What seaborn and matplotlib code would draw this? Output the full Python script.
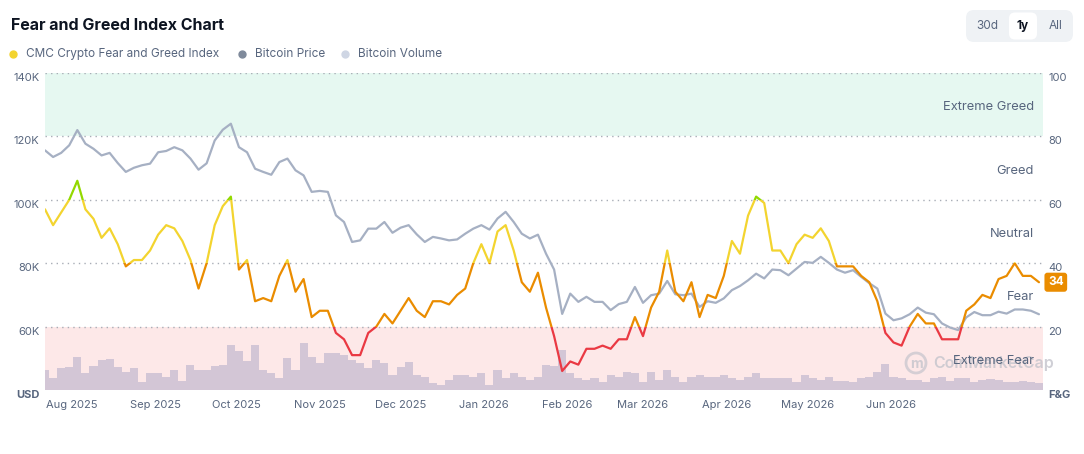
import pandas as pd
import seaborn as sns
import matplotlib.pyplot as plt
import matplotlib.dates as mdates
from matplotlib.patches import Rectangle, FancyBboxPatch, Circle
from matplotlib.lines import Line2D
from matplotlib.transforms import Affine2D, blended_transform_factory

# values, one sample every 3 days from 22 Jul 2025
start_date = '2025-07-22'
fear_greed = [57, 52, 56, 60, 66, 57, 54, 48, 51, 46, 39, 41, 41, 44, 49, 52, 51, 47, 41, 32,
              40, 52, 58, 61, 38, 41, 28, 29, 28, 36, 41, 31, 35, 23, 25, 25, 18, 16, 11, 11,
              18, 20, 24, 21, 25, 29, 25, 23, 28, 28, 27, 30, 32, 40, 46, 40, 50, 52, 44, 34,
              31, 37, 26, 17, 6, 9, 8, 13, 13, 14, 13, 16, 16, 23, 17, 26, 31, 44, 31, 28,
              34, 23, 30, 29, 36, 47, 43, 55, 61, 59, 44, 44, 40, 46, 49, 48, 51, 47, 39, 39,
              39, 36, 34, 28, 18, 15, 14, 20, 24, 21, 21, 16, 16, 16, 25, 27, 30, 29, 35, 36,
              40, 36, 36, 34]
btc_price_k = [115.6, 113.5, 114.8, 117.2, 122.0, 117.7, 116.1, 114.0, 114.8, 111.6,
               108.8, 110.1, 110.9, 111.4, 115.0, 115.4, 116.6, 115.6, 113.0, 109.5,
               111.5, 118.7, 122.1, 124.0, 116.6, 115.0, 109.8, 108.8, 107.9, 111.9,
               113.0, 109.3, 107.7, 102.5, 102.8, 102.5, 95.1, 93.0, 86.7, 87.2,
               90.9, 90.9, 93.0, 89.6, 91.2, 92.0, 89.1, 86.7, 88.3, 87.8,
               87.2, 87.5, 89.3, 90.9, 92.0, 90.6, 94.1, 96.2, 93.0, 89.3,
               87.8, 89.0, 83.0, 78.0, 64.0, 70.4, 67.8, 69.4, 67.8, 67.8,
               65.2, 67.1, 67.8, 72.5, 67.5, 69.9, 70.4, 74.4, 70.2, 69.9,
               70.4, 66.2, 68.0, 67.5, 68.9, 71.5, 72.8, 74.6, 76.7, 75.2,
               78.0, 77.8, 76.2, 78.3, 80.4, 80.1, 82.0, 80.1, 78.0, 77.0,
               77.8, 75.7, 73.7, 72.0, 64.1, 62.0, 62.6, 63.9, 66.0, 64.4,
               63.9, 61.0, 59.7, 58.9, 62.9, 64.6, 63.6, 63.6, 64.7, 64.1,
               65.4, 65.4, 65.0, 63.9]
btc_volume_b = [20, 12, 22, 23, 33, 17, 24, 30, 31, 23, 18, 22, 8, 17, 17, 13, 20, 9, 25, 20,
                20, 24, 25, 45, 39, 29, 45, 20, 17, 12, 32, 20, 47, 33, 27, 37, 37, 35, 30, 27,
                22, 30, 27, 15, 23, 28, 15, 13, 7, 5, 10, 15, 15, 13, 17, 5, 20, 12, 17, 13,
                10, 13, 25, 24, 40, 17, 12, 10, 12, 8, 15, 13, 18, 17, 8, 18, 10, 20, 13, 8,
                13, 15, 13, 13, 15, 12, 10, 13, 17, 12, 12, 12, 12, 8, 15, 12, 10, 13, 9, 9,
                8, 12, 13, 18, 26, 13, 12, 10, 10, 8, 12, 13, 9, 12, 12, 8, 10, 11, 10, 8,
                8, 9, 8, 7]
dates = pd.date_range(start_date, periods=len(fear_greed), freq='3D')

band_edges = [0, 20, 40, 60, 80, 100]
band_names = ['Extreme Fear', 'Fear', 'Neutral', 'Greed', 'Extreme Greed']
band_line_colors = ['#ea3943', '#ea8c00', '#f3d42f', '#93d900', '#16c784']

price_ticks_k = [40, 60, 80, 100, 120, 140]
price_tick_labels = ['USD', '60K', '80K', '100K', '120K', '140K']
fg_ticks = [0, 20, 40, 60, 80, 100]
fg_tick_labels = ['F&G', '20', '40', '60', '80', '100']
month_ticks = pd.date_range('2025-08-01', '2026-06-01', freq='MS')

sns.set_theme(style='white')
plt.rcParams['font.family'] = ['Inter', 'DejaVu Sans']
grey_text = '#58667e'

W, H = 1084, 454
fig = plt.figure(figsize=(W / 100, H / 100), dpi=100)
px = Affine2D().scale(1 / W, -1 / H).translate(0, 1) + fig.transFigure

ax = fig.add_axes([45 / W, 64 / H, 998 / W, 317 / H])
ax_vol = ax.twinx()
ax_price = ax.twinx()
ax_fg = ax.twinx()

# background bands and dotted grid
ax.set_ylim(0, 100)
ax.axhspan(0, 20, color='#fde8e8', lw=0)
ax.axhspan(80, 100, color='#e6f8f1', lw=0)
for y in fg_ticks:
    ax.axhline(y, color='#a8adb6', lw=1, ls=(0, (1, 3)))

# watermark (sits under the zone label, as in the original)
ax.add_patch(Circle((916, 363), 10, transform=px, fill=False, ec='#c4c4cc', lw=2, alpha=0.7))
ax.text(916, 364, 'm', transform=px, ha='center', va='center', fontsize=10,
        color='#c4c4cc', alpha=0.8, fontweight='bold')
ax.text(933, 363, 'CoinMarketCap', transform=px, ha='left', va='center', fontsize=11.5,
        color='#c4c4cc', alpha=0.8, fontweight='semibold')

band_lab_tr = blended_transform_factory(ax.transAxes, ax.transData)
for lo, hi, name in zip(band_edges[:-1], band_edges[1:], band_names):
    ax.text(0.991, (lo + hi) / 2 - 0.8, name, transform=band_lab_tr, ha='right', va='center',
            fontsize=9.3, color=grey_text)

# volume
ax_vol.bar(dates, btc_volume_b, width=3, color='#d3c6d6', lw=0)
ax_vol.set_ylim(0, 317)

# bitcoin price
sns.lineplot(x=dates, y=btc_price_k, ax=ax_price, color='#a6b0c3', linewidth=1.6)
ax_price.set_ylim(40, 140)

# fear & greed line, coloured by zone
clip_tr = blended_transform_factory(ax_fg.transAxes, ax_fg.transData)
for i, c in enumerate(band_line_colors):
    lo = band_edges[i] if i > 0 else -50
    hi = band_edges[i + 1] if i < len(band_line_colors) - 1 else 150
    sns.lineplot(x=dates, y=fear_greed, ax=ax_fg, color=c, linewidth=1.6)
    line = ax_fg.lines[-1]
    line.set_solid_joinstyle('round')
    line.set_clip_path(Rectangle((0, lo), 1, hi - lo, transform=clip_tr))
ax_fg.set_ylim(0, 100)

ax.set_xlim(dates[0], dates[-1] + pd.Timedelta(hours=36))

for a in (ax, ax_vol, ax_price, ax_fg):
    for s in a.spines.values():
        s.set_visible(False)
    a.set_ylabel('')
    a.set_xlabel('')
    a.grid(False)
ax.set_yticks([])
ax_vol.set_yticks([])

ax_price.yaxis.tick_left()
ax_price.set_yticks(price_ticks_k, price_tick_labels)
ax_price.tick_params(axis='y', length=0, pad=4, labelsize=8, labelcolor=grey_text)
for t in ax_price.get_yticklabels():
    t.set_verticalalignment('top')
ax_price.get_yticklabels()[0].set_fontweight('bold')

ax_fg.yaxis.tick_right()
ax_fg.set_yticks(fg_ticks, fg_tick_labels)
ax_fg.tick_params(axis='y', length=0, pad=4, labelsize=8, labelcolor=grey_text)
for t in ax_fg.get_yticklabels():
    t.set_verticalalignment('top')
ax_fg.get_yticklabels()[0].set_fontweight('bold')

ax.set_xticks(month_ticks)
ax.xaxis.set_major_formatter(mdates.DateFormatter('%b %Y'))
ax.tick_params(axis='x', length=0, pad=7, labelsize=8, labelcolor=grey_text)

# current value badge
ax_fg.text(1.005, fear_greed[-1], str(fear_greed[-1]), transform=clip_tr, ha='left', va='center',
           fontsize=8.5, fontweight='bold', color='white', zorder=10,
           bbox=dict(boxstyle='round,pad=0.3,rounding_size=0.25', fc='#ea8c00', ec='none'))

# header
fig.text(11, 25, 'Fear and Greed Index Chart', transform=px, fontsize=11.5, fontweight='bold',
         color='#0d1421', va='center')
legend_items = [('CMC Crypto Fear and Greed Index', '#f3d42f', 13),
                ('Bitcoin Price', '#7f8a9b', 242),
                ('Bitcoin Volume', '#cfd6e4', 345)]
for label, c, x in legend_items:
    fig.add_artist(Line2D([x], [54], marker='o', ms=5, color=c, lw=0, transform=px))
    fig.text(x + 13, 54, label, transform=px, fontsize=8.5, color=grey_text, va='center')

fig.add_artist(FancyBboxPatch((966, 10), 107, 32, boxstyle='round,pad=0,rounding_size=8',
                              transform=px, fc='#eff2f5', ec='none'))
fig.add_artist(FancyBboxPatch((1009, 12.5), 28, 27, boxstyle='round,pad=0,rounding_size=6',
                              transform=px, fc='white', ec='none'))
fig.text(987, 26, '30d', transform=px, ha='center', va='center', fontsize=8.5, color=grey_text)
fig.text(1023, 26, '1y', transform=px, ha='center', va='center', fontsize=8.5,
         fontweight='bold', color='#0d1421')
fig.text(1055.5, 26, 'All', transform=px, ha='center', va='center', fontsize=8.5, color=grey_text)

fig.savefig('out.png', dpi=100)
